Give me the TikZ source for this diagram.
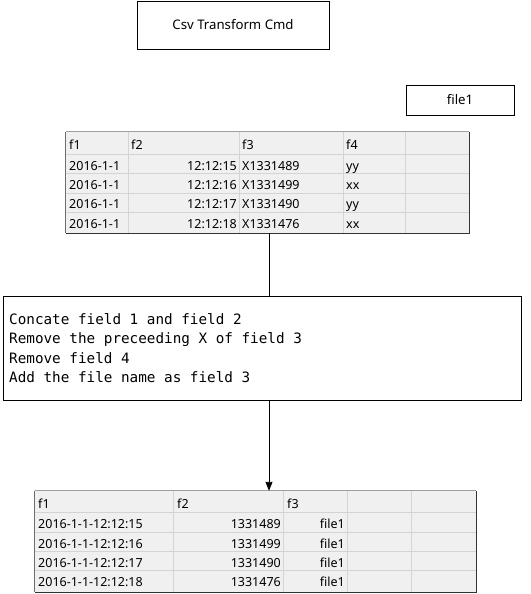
\documentclass[tikz,border=0pt]{standalone}
\usepackage{fontspec}
\setmainfont{Noto Sans}
\newfontfamily\monof{DejaVu Sans Mono}
\usetikzlibrary{arrows.meta,calc}
\definecolor{tblbg}{HTML}{F0F0F0}
\definecolor{gridc}{HTML}{D4D4D4}
\definecolor{bordt}{HTML}{A0A0A0}
\definecolor{bordl}{HTML}{6E6E6E}
\definecolor{bordbr}{HTML}{333333}
\begin{document}
\begin{tikzpicture}[x=1pt,y=-1pt,
  box/.style={draw=black, line width=0.9pt, inner sep=0pt},
  tbl/.style={fill=tblbg, inner sep=0pt},
  gridline/.style={draw=gridc, line width=1pt},
  cell/.style={inner sep=0pt, font=\fontsize{12.5}{14}\selectfont, anchor=base west},
  rcell/.style={cell, anchor=base east},
  mono/.style={inner sep=0pt, anchor=base west, font=\monof\fontsize{14.3}{19}\selectfont},
  conn/.style={draw=black, line width=0.9pt}]
\useasboundingbox (0,0) rectangle (530,594);

% title and file name
\node[box, minimum width=192pt, minimum height=48pt, font=\fontsize{13.2}{15}\selectfont] (title) at (233,25) {Csv Transform Cmd};
\node[box, minimum width=108pt, minimum height=30pt, font=\fontsize{13.2}{15}\selectfont] (fname) at (460,100) {file1};

% top table
\node[tbl, minimum width=403pt, minimum height=101pt] (tabA) at (267.5,182.5) {};
\foreach \x in {128,239,343,405} \draw[gridline] (\x,132) -- (\x,233);
\foreach \y in {154,173,193,212} \draw[gridline] (66,\y) -- (469,\y);
\draw[bordt, line width=1pt] (tabA.north west) -- (tabA.north east);
\draw[bordl, line width=1pt] (tabA.north west) -- (tabA.south west);
\draw[bordbr, line width=1.2pt] (tabA.north east) -- (tabA.south east) -- (tabA.south west);
\node[cell] (ah1) at (69,149) {f1};
\node[cell] (ah2) at (131,149) {f2};
\node[cell] (ah3) at (242,149) {f3};
\node[cell] (ah4) at (346,149) {f4};
\foreach \yb/\a/\b/\c/\d [count=\i] in {170/2016-1-1/12:12:15/X1331489/yy,
    189.5/2016-1-1/12:12:16/X1331499/xx,
    208.5/2016-1-1/12:12:17/X1331490/yy,
    228/2016-1-1/12:12:18/X1331476/xx}{
  \node[cell] (a\i c1) at (69,\yb) {\a};
  \node[rcell] (a\i c2) at (237,\yb) {\b};
  \node[cell] (a\i c3) at (242,\yb) {\c};
  \node[cell] (a\i c4) at (346,\yb) {\d};
}

% process box
\node[box, minimum width=518pt, minimum height=104pt] (proc) at (262,348) {};
\node[mono] (l1) at (9,324) {Concate field 1 and field 2};
\node[mono] (l2) at (9,343.5) {Remove the preceeding X of field 3};
\node[mono] (l3) at (9,363) {Remove field 4};
\node[mono] (l4) at (9,382) {Add the file name as field 3};

% bottom table
\node[tbl, minimum width=441pt, minimum height=101pt] (tabB) at (255.5,541.5) {};
\foreach \x in {173,283,347,411} \draw[gridline] (\x,491) -- (\x,592);
\foreach \y in {512,532,551,570} \draw[gridline] (35,\y) -- (476,\y);
\draw[bordt, line width=1pt] (tabB.north west) -- (tabB.north east);
\draw[bordl, line width=1pt] (tabB.north west) -- (tabB.south west);
\draw[bordbr, line width=1.2pt] (tabB.north east) -- (tabB.south east) -- (tabB.south west);
\node[cell] (bh1) at (38,508) {f1};
\node[cell] (bh2) at (177,508) {f2};
\node[cell] (bh3) at (287,508) {f3};
\foreach \yb/\a/\b [count=\i] in {528/2016-1-1-12:12:15/1331489,
    548/2016-1-1-12:12:16/1331499,
    567/2016-1-1-12:12:17/1331490,
    586.5/2016-1-1-12:12:18/1331476}{
  \node[cell] (b\i c1) at (38,\yb) {\a};
  \node[rcell] (b\i c2) at (281,\yb) {\b};
  \node[rcell] (b\i c3) at (345,\yb) {file1};
}

% connectors
\coordinate (cx) at (269,0);
\draw[conn] (tabA.south -| cx) -- (proc.north -| cx);
\draw[conn, -{Triangle[length=9pt,width=7pt]}] (proc.south -| cx) -- (tabB.north -| cx);
\end{tikzpicture}
\end{document}
